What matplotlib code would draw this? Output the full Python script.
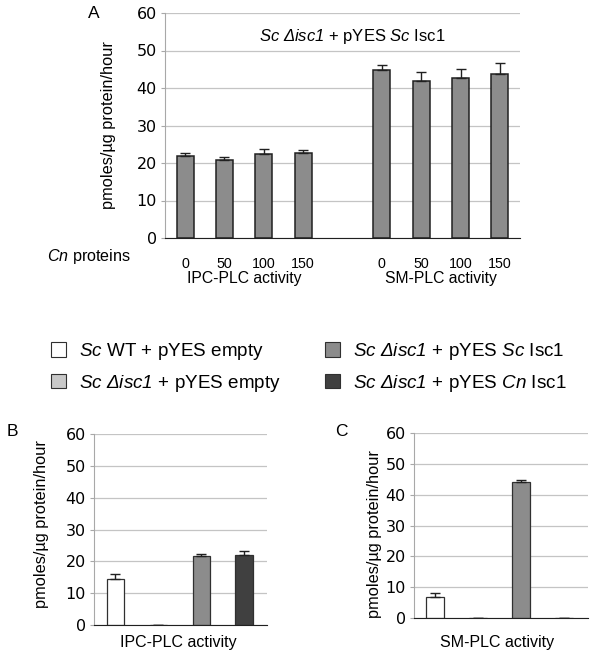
import numpy as np
import matplotlib
matplotlib.use("Agg")
import matplotlib.pyplot as plt
from matplotlib.patches import Patch

# italic pieces (incl. digits) go through mathtext
plt.rcParams['mathtext.fontset'] = 'custom'
plt.rcParams['mathtext.rm'] = 'Liberation Sans:italic'
plt.rcParams['mathtext.it'] = 'Liberation Sans:italic'

ARIAL = 'Liberation Sans'
VERD = 'DejaVu Sans'

# Panel A data
dose_labels = ['0', '50', '100', '150']
ipc_vals = [22.0, 20.7, 22.5, 22.7]
ipc_err = [0.6, 0.9, 1.3, 0.8]
sm_vals = [44.8, 41.8, 42.8, 43.7]
sm_err = [1.4, 2.4, 2.4, 2.9]

# Panels B/C data
strains = [r'$Sc$ WT + pYES empty',
           r'$Sc\ Δisc1$ + pYES empty',
           r'$Sc\ Δisc1$ + pYES $Sc$ Isc1',
           r'$Sc\ Δisc1$ + pYES $Cn$ Isc1']
strain_colors = ['#ffffff', '#c8c8c8', '#8c8c8c', '#404040']
ipc_strain_vals = [14.3, 0.15, 21.8, 21.9]
ipc_strain_err = [1.6, 0.0, 0.5, 1.4]
sm_strain_vals = [6.9, 0.15, 44.2, 0.15]
sm_strain_err = [1.1, 0.0, 0.5, 0.0]

fig = plt.figure(figsize=(5.91, 6.57), dpi=100)
W, H = 591.0, 657.0


def px_axes(l, t, r, b):
    return fig.add_axes([l / W, 1 - b / H, (r - l) / W, (b - t) / H])


def style(ax, fs):
    ax.set_ylim(0, 60)
    ax.set_yticks(range(0, 61, 10))
    ax.yaxis.grid(True, color='#c4c4c4', lw=0.9)
    ax.set_axisbelow(True)
    for s in ['top', 'right']:
        ax.spines[s].set_visible(False)
    ax.spines['left'].set_color('#a8a8a8')
    ax.spines['bottom'].set_color('#202020')
    ax.tick_params(axis='y', length=3, color='#a8a8a8', pad=3, labelsize=fs)
    for lab in ax.get_yticklabels():
        lab.set_fontfamily(VERD)


err_style = dict(ecolor='#202020', elinewidth=1, capthick=1)

# ---- Panel A
axA = px_axes(165, 13, 520, 238)
pos = [0, 1, 2, 3, 5, 6, 7, 8]
vals = ipc_vals + sm_vals
errs = ipc_err + sm_err
axA.bar(pos, vals, width=0.43, color='#8c8c8c', edgecolor='#202020', lw=1.1,
        yerr=[np.zeros(len(errs)), errs], capsize=3.6, error_kw=err_style)
axA.set_xlim(-0.51, 8.51)
style(axA, 11.5)
axA.set_xticks(pos)
axA.set_xticklabels(dose_labels * 2, fontfamily=ARIAL, fontsize=10.3)
axA.tick_params(axis='x', length=0, pad=14)
fig.text(352 / W, 1 - 36 / H, r'$Sc\ Δisc1$ + pYES $Sc$ Isc1',
         ha='center', va='center', fontfamily=ARIAL, fontsize=12)
tr = axA.get_xaxis_transform()
axA.text(1.5, -0.178, 'IPC-PLC activity', transform=tr, ha='center',
         va='center', fontfamily=ARIAL, fontsize=11.3)
axA.text(6.5, -0.178, 'SM-PLC activity', transform=tr, ha='center',
         va='center', fontfamily=ARIAL, fontsize=11.3)
fig.text(131 / W, 1 - 257 / H, r'$Cn$ proteins', ha='right',
         va='center', fontfamily=ARIAL, fontsize=11.6)
fig.text(108 / W, 1 - 125 / H, 'pmoles/µg protein/hour', rotation=90,
         ha='center', va='center', fontfamily=ARIAL, fontsize=11.8)
fig.text(94 / W, 1 - 13 / H, 'A', ha='center', va='center',
         fontfamily=ARIAL, fontsize=12.5)

# ---- Legend
handles = [Patch(facecolor=c, edgecolor='#303030', lw=0.8) for c in strain_colors]
fig.legend(handles, strains, ncol=2, loc='upper left',
           bbox_to_anchor=(51 / W, 1 - 341 / H), frameon=False,
           prop={'family': ARIAL, 'size': 13.6}, handlelength=0.82,
           handleheight=0.82, handletextpad=0.68, columnspacing=2.3,
           labelspacing=0.56, borderpad=0, borderaxespad=0)

# ---- Panel B
axB = px_axes(94, 434, 267, 625)
xs = np.arange(4)
axB.bar(xs, ipc_strain_vals, width=0.41, color=strain_colors,
        edgecolor='#303030', lw=0.9,
        yerr=[np.zeros(4), ipc_strain_err], capsize=3.6, error_kw=err_style)
axB.set_xlim(-0.5, 3.53)
style(axB, 11.5)
axB.set_xticks([])
fig.text(178 / W, 1 - 643 / H, 'IPC-PLC activity', ha='center',
         va='center', fontfamily=ARIAL, fontsize=11.5)
fig.text(42 / W, 1 - 524 / H, 'pmoles/µg protein/hour', rotation=90,
         ha='center', va='center', fontfamily=ARIAL, fontsize=11.8)
fig.text(12 / W, 1 - 431 / H, 'B', ha='center', va='center',
         fontfamily=ARIAL, fontsize=12.5)

# ---- Panel C
axC = px_axes(414, 433, 588, 618)
axC.bar(xs, sm_strain_vals, width=0.41, color=strain_colors,
        edgecolor='#303030', lw=0.9,
        yerr=[np.zeros(4), sm_strain_err], capsize=3.6, error_kw=err_style)
axC.set_xlim(-0.48, 3.55)
style(axC, 11.5)
axC.set_xticks([])
fig.text(497 / W, 1 - 643 / H, 'SM-PLC activity', ha='center',
         va='center', fontfamily=ARIAL, fontsize=11.5)
fig.text(374 / W, 1 - 534 / H, 'pmoles/µg protein/hour', rotation=90,
         ha='center', va='center', fontfamily=ARIAL, fontsize=11.8)
fig.text(341 / W, 1 - 431 / H, 'C', ha='center', va='center',
         fontfamily=ARIAL, fontsize=12.5)

fig.savefig('out.png', dpi=100)
